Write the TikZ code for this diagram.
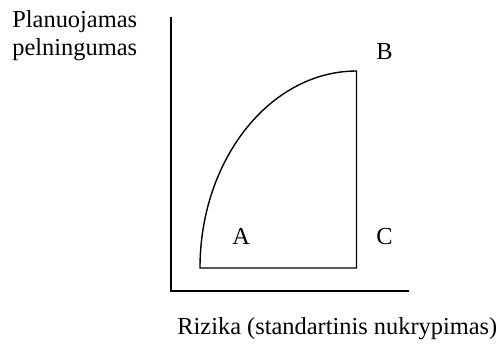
\documentclass[tikz,border=0pt]{standalone}
\usepackage{fontspec}
\setmainfont{Liberation Serif}
\begin{document}
\begin{tikzpicture}[x=0.5pt,y=-0.5pt,
  lbl/.style={inner sep=0pt,anchor=base west,font=\fontsize{12.2}{14}\selectfont},
  axisline/.style={line width=1pt},
  shapeline/.style={line width=0.7pt,line join=miter}]
\useasboundingbox (0,0) rectangle (504,345);
% axes
\coordinate (ytop) at (170.5,17);
\coordinate (orig) at (170.5,291);
\coordinate (xend) at (409,291);
\draw[axisline] (ytop) -- (orig) -- (xend);
% shape
\coordinate (pA) at (200,268);
\coordinate (pB) at (356.5,71);
\coordinate (pC) at (356.5,268);
\draw[shapeline] (pA) .. controls (200,159.2) and (270.5,71) .. (pB) -- (pC) -- cycle;
% labels
\node[lbl] (ylab1) at (12,27) {Planuojamas};
\node[lbl] (ylab2) at (12,55) {pelningumas};
\node[lbl] (lB) at (376,59) {B};
\node[lbl] (lA) at (232,244) {A};
\node[lbl] (lC) at (376,244) {C};
\node[lbl] (xlab) at (177,334) {Rizika (standartinis nukrypimas)};
\end{tikzpicture}
\end{document}
